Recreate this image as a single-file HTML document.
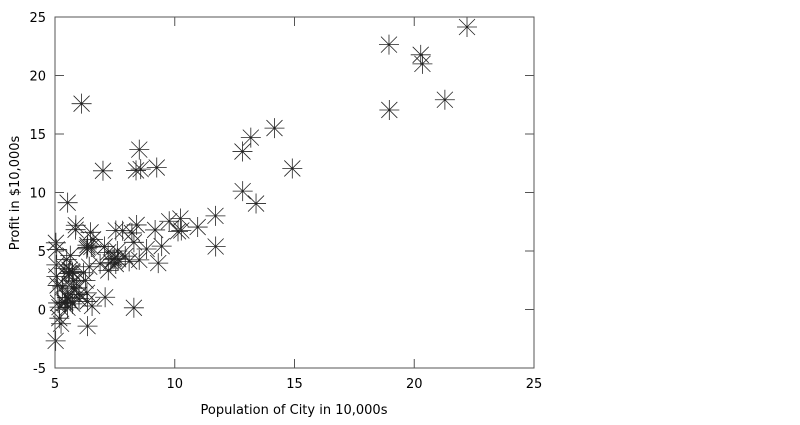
<!DOCTYPE html>
<html><head><meta charset="utf-8"><style>
body{margin:0;background:#fff;width:800px;height:420px;overflow:hidden}
svg text{font-family:"DejaVu Sans","Liberation Sans",sans-serif;font-size:13px;fill:#000}
</style></head><body>
<svg id="chart" width="800" height="420">
<g id="marks"></g>
<g id="axes"></g>
</svg>
<script>
const population=[6.1101,5.5277,8.5186,7.0032,5.8598,8.3829,7.4764,8.5781,6.4862,5.0546,5.7107,14.164,5.734,8.4084,5.6407,5.3794,6.3654,5.1301,6.4296,7.0708,6.1891,20.27,5.4901,6.3261,5.5649,18.945,12.828,10.957,13.176,22.203,5.2524,6.5894,9.2482,5.8918,8.2111,7.9334,8.0959,5.6063,12.836,6.3534,5.4069,6.8825,11.708,5.7737,7.8247,7.0931,5.0702,5.8014,11.7,5.5416,7.5402,5.3077,7.4239,7.6031,6.3328,6.3589,6.2742,5.6397,9.3102,9.4536,8.8254,5.1793,21.279,14.908,18.959,7.2182,8.2951,10.236,5.4994,20.341,10.136,7.3345,6.0062,7.2259,5.0269,6.5479,7.5386,5.0365,10.274,5.1077,5.7292,5.1884,6.3557,9.7687,6.5159,8.5172,9.1802,6.002,5.5204,5.0594,5.7077,7.6366,5.8707,5.3054,8.2934,13.394,5.4369];
const profit=[17.592,9.1302,13.662,11.854,6.8233,11.886,4.3483,12,6.5987,3.8166,3.2522,15.505,3.1551,7.2258,0.71618,3.5129,5.3048,0.56077,3.6518,5.3893,3.1386,21.767,4.263,5.1875,3.0825,22.638,13.501,7.0467,14.692,24.147,-1.22,5.9966,12.134,1.8495,6.5426,4.5623,4.1164,3.3928,10.117,5.4974,0.55657,3.9115,5.3854,2.4406,6.7318,1.0463,5.1337,1.844,8.0043,1.0179,6.7504,1.8396,4.2885,4.9981,1.4233,-1.4211,2.4756,4.6042,3.9624,5.4141,5.1694,-0.74279,17.929,12.054,17.054,4.8852,5.7442,7.7754,1.0173,20.992,6.6799,4.0259,1.2784,3.3411,-2.6807,0.29678,3.8845,5.7014,6.7526,2.0576,0.47953,0.20421,0.67861,7.5435,5.3436,4.2415,6.7981,0.92695,0.152,2.8214,1.8451,4.2959,7.2029,1.9869,0.14454,9.0551,0.61705];
const xTicks=[5,10,15,20,25];
const yTicks=[-5,0,5,10,15,20,25];
const L=55,R=534,T=17,B=368,XMIN=5,XMAX=25,YMIN=-5,YMAX=25;
const sx=v=>L+(v-XMIN)/(XMAX-XMIN)*(R-L);
const sy=v=>B-(v-YMIN)/(YMAX-YMIN)*(B-T);
const NS='http://www.w3.org/2000/svg';
function mk(tag,attrs,parent){const e=document.createElementNS(NS,tag);for(const k in attrs)e.setAttribute(k,attrs[k]);parent.appendChild(e);return e;}
const marks=document.getElementById('marks'),axes=document.getElementById('axes');
for(let i=0;i<population.length;i++){
  const cx=sx(population[i]),cy=sy(profit[i]),a=10,d=8;
  const p=mk('path',{d:`M${cx-a},${cy}H${cx+a}M${cx},${cy-a}V${cy+a}M${cx-d},${cy-d}L${cx+d},${cy+d}M${cx-d},${cy+d}L${cx+d},${cy-d}`,stroke:'#222','stroke-width':0.8,fill:'none'},marks);
  
  
}
const frame=mk('rect',{x:L,y:T,width:R-L,height:B-T,fill:'none',stroke:'#555','stroke-width':1},axes);


xTicks.forEach(v=>{
  const x=sx(v);
  mk('path',{d:`M${x},${B}V${B-9}M${x},${T}V${T+9}`,stroke:'#555'},axes);
  const t=mk('text',{x:x,y:B+20,'text-anchor':'middle'},axes);t.textContent=v;
  
  
});
yTicks.forEach(v=>{
  const y=sy(v);
  mk('path',{d:`M${L},${y}H${L+9}M${R},${y}H${R-9}`,stroke:'#555'},axes);
  const t=mk('text',{x:L-9,y:y+5,'text-anchor':'end'},axes);t.textContent=v;
  
  
});
const xt=mk('text',{x:294,y:414,'text-anchor':'middle'},axes);xt.textContent='Population of City in 10,000s';


const yt=mk('text',{x:0,y:0,'text-anchor':'middle',transform:'translate(19,193) rotate(-90)'},axes);yt.textContent='Profit in $10,000s';


</script>
</body></html>
